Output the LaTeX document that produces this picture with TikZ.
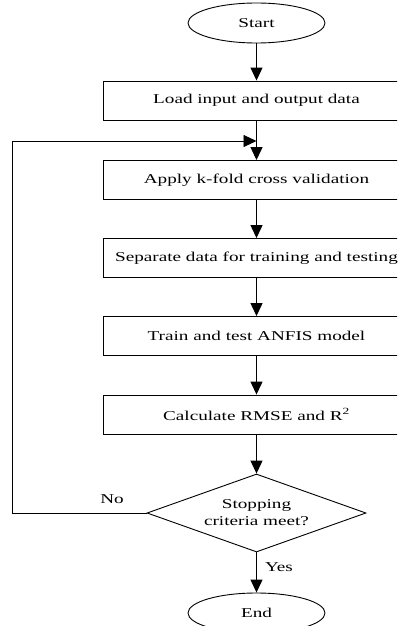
\documentclass[tikz,border=0pt]{standalone}
\usepackage{fontspec}
\setmainfont{Liberation Serif}[FakeStretch=1.42]
\usetikzlibrary{shapes.geometric,arrows.meta}
\begin{document}
\begin{tikzpicture}[x=1pt,y=-1pt,
  every node/.style={font=\fontsize{13.5}{17}\selectfont},
  term/.style={draw,ellipse,line width=0.9pt,minimum width=137pt,minimum height=40pt,inner sep=0pt},
  procbox/.style={draw,rectangle,line width=0.9pt,minimum width=307pt,minimum height=39pt,inner sep=0pt},
  decide/.style={draw,diamond,line width=0.9pt,minimum width=219pt,minimum height=78pt,inner sep=0pt,shape aspect=2.8},
  flow/.style={line width=1.2pt,-{Triangle[length=13pt,width=12pt]}},
  loopflow/.style={line width=0.9pt,-{Triangle[length=13pt,width=12pt]}}]
\useasboundingbox (0,0) rectangle (397,626);
\clip (0,0) rectangle (397,626);
\node[term] (start) at (256.5,23) {Start};
\node[procbox] (b1) at (256.5,100.5) {Load input and output data};
\node[procbox] (b2) at (256.5,180) {Apply k-fold cross validation};
\node[procbox] (b3) at (256.5,258) {Separate data for training and testing};
\node[procbox] (b4) at (256.5,336) {Train and test ANFIS model};
\node[procbox] (b5) at (256.5,414.5) {Calculate RMSE and R\textsuperscript{2}};
\node[decide, align=center] (dia) at (256.5,513) {Stopping\\criteria meet?};
\node[term] (end) at (256.5,613) {End};
\coordinate (j) at (256.5,141);
\coordinate (lb) at (12,513);
\coordinate (lt) at (12,141);
\draw[flow] (start) -- (b1);
\draw[flow] (b1) -- (b2);
\draw[flow] (b2) -- (b3);
\draw[flow] (b3) -- (b4);
\draw[flow] (b4) -- (b5);
\draw[flow] (b5) -- (dia);
\draw[flow] (dia) -- (end);
\draw[loopflow] (dia.west) -- (lb) -- (lt) -- (j);
\node (no) at (112,499) {No};
\node (yes) at (279,567) {Yes};
\end{tikzpicture}
\end{document}
